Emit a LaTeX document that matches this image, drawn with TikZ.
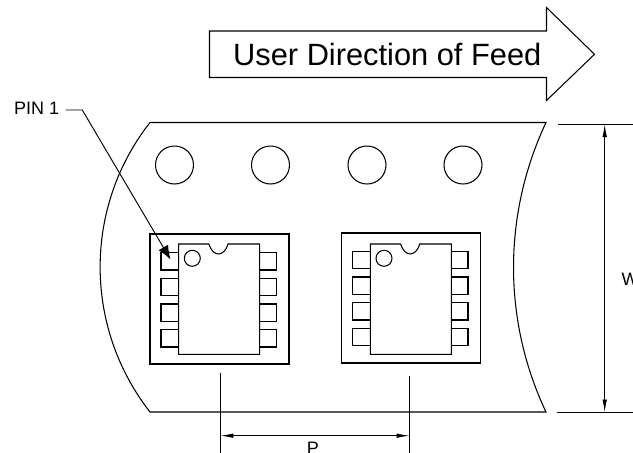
\documentclass[tikz,border=0pt]{standalone}
\usepackage{fontspec}
\setmainfont{Liberation Sans}
\usetikzlibrary{arrows.meta}
\tikzset{
  ink/.style={draw=black,line width=1.05pt,line join=miter},
  thin ink/.style={draw=black,line width=0.95pt},
  dimarrow/.style={thin ink,{Latex[length=13pt,width=4.5pt]}-{Latex[length=13pt,width=4.5pt]}},
  pinarrow/.style={thin ink,-{Latex[length=14pt,width=11pt]}},
  label/.style={inner sep=0pt,font=\fontsize{18}{20}\selectfont},
  title/.style={inner sep=0pt,font=\fontsize{30.8}{34}\selectfont},
  hole/.style={ink,circle,minimum size=38pt,inner sep=0pt},
  dot/.style={ink,circle,minimum size=16pt,inner sep=0pt},
}
\newcommand{\chipdraw}[4]{% x shift, outer dy, pad dy, name
  \draw[ink] (150+#1,234+#2) rectangle (289+#1,364+#2);
  \foreach \py in {252.7,278.3,304,329.7}{
    \draw[ink] (178.7+#1,\py+#3) -- (161+#1,\py+#3) -- (161+#1,\py+17.3+#3) -- (178.7+#1,\py+17.3+#3);
    \draw[ink] (259.7+#1,\py+#3) -- (276.3+#1,\py+#3) -- (276.3+#1,\py+17.3+#3) -- (259.7+#1,\py+17.3+#3);
  }
  \draw[ink] (209+#1,244) -- (178.7+#1,244) -- (178.7+#1,354.3) -- (259.7+#1,354.3) -- (259.7+#1,244) -- (228+#1,244)
    .. controls (226+#1,251) and (222+#1,254) .. (218.5+#1,254)
    .. controls (215+#1,254) and (211+#1,251) .. (209+#1,244);
  \node[dot] (#4) at (192.3+#1,258.3) {};
}
\begin{document}
\begin{tikzpicture}[x=1pt,y=-1pt]
\useasboundingbox (0,0) rectangle (633,453);
% feed arrow
\draw[ink] (209.5,31) -- (546.5,31) -- (546.5,7.5) -- (594.5,54.3) -- (546.5,100.5) -- (546.5,77.5) -- (209.5,77.5) -- cycle;
\node[title,anchor=base west] (feed) at (233,65) {User Direction of Feed};
% tape
\draw[ink] (150,122.5) -- (546,122.5) .. controls (502.7,214.6) and (502.7,320.4) .. (546,412) -- (150,412)
  .. controls (83.5,327) and (83.5,207) .. cycle;
% sprocket holes
\node[hole] (h1) at (174.5,165) {};
\node[hole] (h2) at (270.5,165) {};
\node[hole] (h3) at (367,165) {};
\node[hole] (h4) at (463,165) {};
% chips
\chipdraw{0}{0}{0}{pinA}
\chipdraw{191.7}{-1}{-1.3}{pinB}
% PIN 1 leader
\node[label,anchor=base west] (pin) at (14,114.5) {PIN 1};
\coordinate (bend) at (82.3,110);
\coordinate (pintip) at (170.5,259.5);
\draw[pinarrow] (65.7,110) -- (bend) -- (pintip);
% P dimension
\coordinate (pa) at (220.3,372.7);
\coordinate (pb) at (220.3,453);
\coordinate (qa) at (409.7,376);
\coordinate (qb) at (409.7,453);
\draw[thin ink] (pa) -- (pb);
\draw[thin ink] (qa) -- (qb);
\coordinate (pl) at (220.3,435.7);
\coordinate (pr) at (409.7,435.7);
\draw[dimarrow] (pl) -- (pr);
\node[label,anchor=base] (P) at (313,454.5) {P};
% W dimension
\coordinate (wt1) at (558,124);
\coordinate (wt2) at (633,124);
\coordinate (wb1) at (556.7,412.5);
\coordinate (wb2) at (633,412.5);
\draw[thin ink] (wt1) -- (wt2);
\draw[thin ink] (wb1) -- (wb2);
\coordinate (wu) at (604.7,124);
\coordinate (wd) at (604.7,412.5);
\draw[dimarrow] (wu) -- (wd);
\node[label,anchor=base west] (W) at (621.5,285) {W};
\end{tikzpicture}
\end{document}
